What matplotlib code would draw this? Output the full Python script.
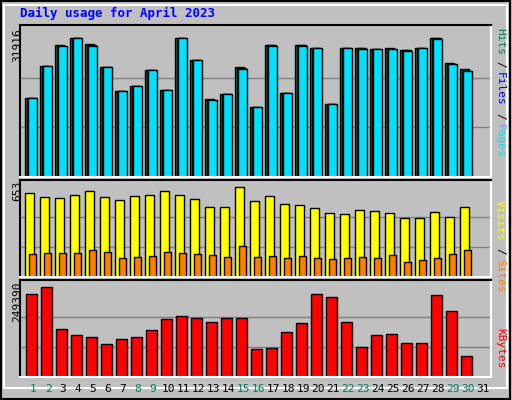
import matplotlib.pyplot as plt
from matplotlib.patches import Rectangle
import numpy as np

days = list(range(1, 32))
weekend = [1, 2, 8, 9, 15, 16, 22, 23, 29, 30]

hits = [16830, 23790, 28350, 29870, 28570, 23570, 18360, 19440, 22910, 18570,
        29870, 25100, 16610, 17700, 23570, 15090, 28350, 17930, 28350, 27700,
        15740, 27700, 27700, 27480, 27700, 27260, 27700, 29870, 24440, 23140]
files = [16830, 23790, 28130, 29870, 28350, 23570, 18360, 19440, 22910, 18570,
         29870, 25100, 16500, 17700, 23350, 15090, 28350, 17930, 28350, 27700,
         15740, 27700, 27700, 27480, 27480, 27260, 27700, 29870, 24220, 22700]
pages = [16830, 23790, 28130, 29870, 28130, 23570, 18360, 19440, 22910, 18570,
         29870, 25100, 16400, 17700, 23140, 15090, 28130, 17930, 28130, 27700,
         15740, 27700, 27480, 27480, 27480, 27040, 27700, 29650, 24220, 22700]
visits = [610, 582, 575, 596, 625, 582, 562, 590, 596, 625,
          596, 569, 512, 512, 653, 555, 590, 534, 527, 499,
          463, 456, 485, 478, 463, 428, 428, 470, 435, 506]
sites = [169, 176, 176, 176, 197, 183, 141, 148, 155, 183,
         176, 169, 162, 148, 225, 148, 155, 141, 155, 141,
         134, 141, 148, 141, 162, 112, 127, 141, 169, 197]
kbytes = [231670, 249390, 132690, 116330, 110880, 91800, 105430, 110880, 130000, 160000,
          168170, 162720, 151800, 162720, 162720, 77810, 81180, 124500, 149080, 231670,
          223500, 151800, 83990, 116330, 119060, 94530, 94530, 228940, 182450, 59630]

W = 512
px = 1 / 15.0

fig = plt.figure(figsize=(5.12, 4.0), dpi=100, facecolor='#c0c0c0')
fig.patches.append(Rectangle((0.002, 0.003), 0.994, 0.994, transform=fig.transFigure,
                             fill=False, edgecolor='black', lw=1.5))
fig.patches.append(Rectangle((0.008, 0.03), 0.982, 0.957, transform=fig.transFigure,
                             fill=False, edgecolor='white', lw=1.5))

mono = 'DejaVu Sans Mono'
fig.text(20 / W, 1 - 13 / 400, 'Daily usage for April 2023', color='#0000ff',
         fontsize=9, fontweight='bold', family=mono, va='center')


def make_ax(top, bottom):
    ax = fig.add_axes([20 / W, 1 - bottom / 400, 471 / W, (bottom - top) / 400])
    ax.set_facecolor('#c0c0c0')
    for s in ax.spines.values():
        s.set_color('white')
        s.set_linewidth(1.5)
    ax.spines['left'].set_color('black')
    ax.spines['top'].set_color('black')
    ax.set_xlim(1 - 11 * px, 31 + (491 - 481) * px)
    ax.set_xticks([])
    ax.set_yticks([])
    return ax


x = np.array(days[:30])
ax1 = make_ax(25, 177)
ymax1 = 31916
ax1.set_ylim(0, ymax1 * 1.02)
for f in (1 / 3, 2 / 3):
    ax1.axhline(ymax1 * f, color='#808080', lw=1, zorder=0)
ax1.bar(x - 6 * px, hits, width=9 * px, align='edge', color='#00805c', edgecolor='black', lw=1)
ax1.bar(x - 4.5 * px, files, width=9 * px, align='edge', color='#0000ff', edgecolor='black', lw=1)
ax1.bar(x - 3 * px, pages, width=9 * px, align='edge', color='#00e0ff', edgecolor='black', lw=1)

ax2 = make_ax(180, 277)
ymax2 = 653
ax2.set_ylim(0, ymax2 * 1.08)
for f in (1 / 3, 2 / 3):
    ax2.axhline(ymax2 * f, color='#808080', lw=1, zorder=0)
ax2.bar(x - 6 * px, visits, width=9 * px, align='edge', color='#ffff00', edgecolor='black', lw=1)
ax2.bar(x - 2 * px, sites, width=7 * px, align='edge', color='#ff8000', edgecolor='black', lw=1)

ax3 = make_ax(280, 377)
ymax3 = 249390
ax3.set_ylim(0, ymax3 * 1.08)
for f in (1 / 3, 2 / 3):
    ax3.axhline(ymax3 * f, color='#808080', lw=1, zorder=0)
ax3.bar(x - 5 * px, kbytes, width=11 * px, align='edge', color='#ff0000', edgecolor='black', lw=1)

# left max labels
for ytop, lab in ((28, '31916'), (181, '653'), (281, '249390')):
    fig.text(17 / W, 1 - ytop / 400, lab, rotation=90, fontsize=8, family=mono,
             ha='center', va='top', color='black')

# right legends, rotated top-to-bottom
def right_label(ytop, parts):
    y = ytop
    for txt, col in parts:
        fig.text(500 / W, 1 - y / 400, txt, rotation=-90, fontsize=8, family=mono,
                 ha='center', va='top', color=col)
        y += len(txt) * 7.3 + 4

right_label(28, [('Hits', '#00805c'), ('/', 'black'), ('Files', '#0000ff'),
                 ('/', 'black'), ('Pages', '#00e0ff')])
right_label(200, [('Visits', '#ffff00'), ('/', 'black'), ('Sites', '#ff8000')])
right_label(328, [('KBytes', '#ff0000')])

for d in days:
    col = '#00805c' if d in weekend else 'black'
    fig.text((33 + 15 * (d - 1)) / W, 1 - 389 / 400, str(d), fontsize=8, family=mono,
             ha='center', va='center', color=col)

fig.savefig('out.png', dpi=100, facecolor=fig.get_facecolor())
